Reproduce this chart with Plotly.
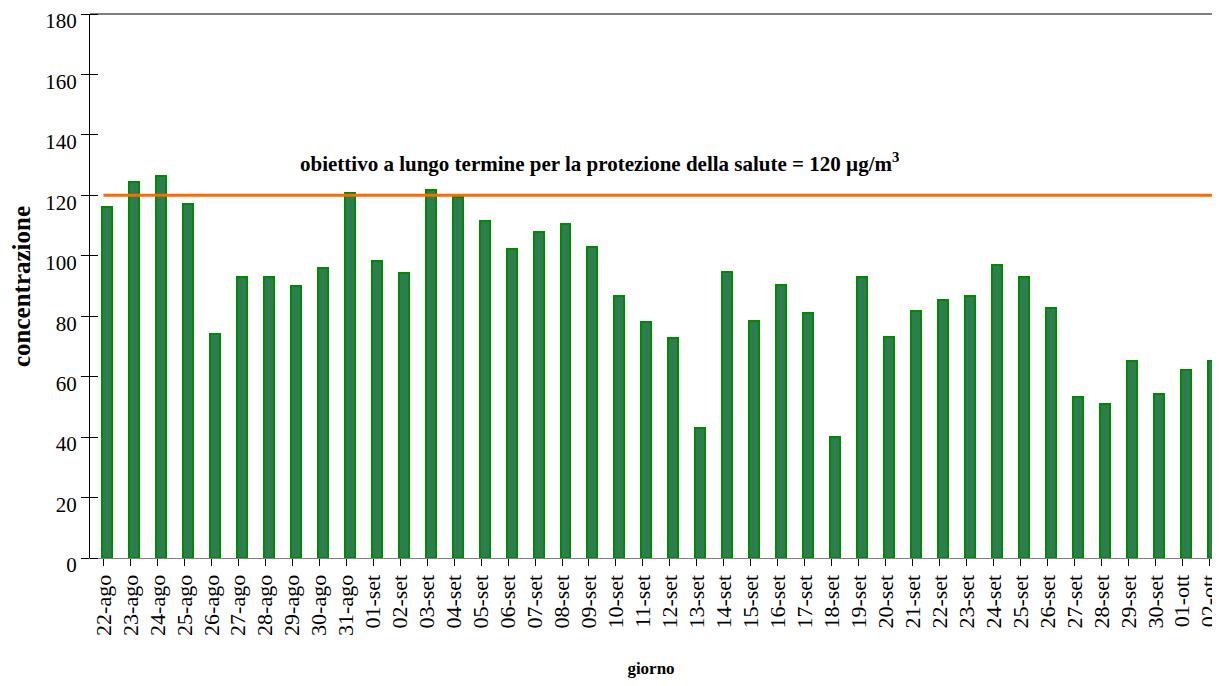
import plotly.graph_objects as go

giorni = ["22-ago", "23-ago", "24-ago", "25-ago", "26-ago", "27-ago", "28-ago", "29-ago", "30-ago", "31-ago",
          "01-set", "02-set", "03-set", "04-set", "05-set", "06-set", "07-set", "08-set", "09-set", "10-set",
          "11-set", "12-set", "13-set", "14-set", "15-set", "16-set", "17-set", "18-set", "19-set", "20-set",
          "21-set", "22-set", "23-set", "24-set", "25-set", "26-set", "27-set", "28-set", "29-set", "30-set",
          "01-ott", "02-ott"]
concentrazione = [116, 124.5, 126.4, 117, 74, 93, 93, 90, 96, 120.7,
                  98.4, 94.3, 121.8, 119.5, 111.5, 102.2, 107.9, 110.5, 102.9, 86.7,
                  78.1, 72.8, 43, 94.6, 78.4, 90.3, 81, 40, 93, 73.1,
                  81.7, 85.4, 86.7, 96.9, 92.9, 82.6, 53.3, 51.1, 65.3, 54.3,
                  62.1, 65.3]
obiettivo = 120
y_ticks = [0, 20, 40, 60, 80, 100, 120, 140, 160, 180]

font_serif = "Liberation Serif, Times New Roman, serif"
idx = list(range(len(giorni)))

fig = go.Figure()
fig.add_trace(go.Bar(
    x=idx, y=concentrazione,
    width=0.37, offset=-0.055,
    marker=dict(color="#2E7D50", line=dict(color="#008A00", width=2)),
    showlegend=False, hoverinfo="y",
))
fig.add_trace(go.Scatter(
    x=[0, len(giorni) - 0.5], y=[obiettivo, obiettivo],
    mode="lines", line=dict(color="#FF6A00", width=3),
    showlegend=False, hoverinfo="skip",
))

fig.add_annotation(
    x=0.454, xref="paper", y=131, yref="y", yanchor="middle", xanchor="center",
    text="<b>obiettivo a lungo termine per la protezione della salute = 120 µg/m<sup>3</sup></b>",
    showarrow=False, font=dict(family=font_serif, size=21, color="black"),
)
# y axis title
fig.add_annotation(
    x=-0.0615, xref="paper", y=0.5, yref="paper", xanchor="center", yanchor="middle",
    text="<b>concentrazione</b>", textangle=-90, showarrow=False,
    font=dict(family=font_serif, size=25, color="black"),
)

# top border
fig.add_shape(type="line", xref="paper", yref="paper", x0=0, x1=1, y0=1, y1=1,
              line=dict(color="black", width=1))

# the page body has an 8px margin, so the figure is sized to fit inside it
fig.update_layout(
    width=1204, height=670,
    margin=dict(l=82, r=0, t=6, b=120),
    paper_bgcolor="white", plot_bgcolor="white",
    font=dict(family=font_serif, size=22, color="black"),
    bargap=0,
    xaxis=dict(
        range=[-0.5, 41.1], automargin=False,
        tickmode="array", tickvals=idx, ticktext=giorni,
        tickangle=-90, tickson="boundaries", ticklabeloverflow="allow",
        ticks="outside", ticklen=7, tickcolor="black",
        showline=True, linecolor="#808080", linewidth=1,
        showgrid=False, zeroline=False,
        tickfont=dict(family=font_serif, size=22),
        title=dict(text="<b>giorno</b>", font=dict(family=font_serif, size=17), standoff=33),
    ),
    yaxis=dict(
        range=[0, 180], automargin=False, tickmode="array", tickvals=y_ticks,
        ticks="outside", ticklen=8, tickcolor="black",
        ticklabeloverflow="allow", ticklabelshift=7,
        minor=dict(ticks="inside", ticklen=8, tickcolor="black", tickvals=y_ticks, showgrid=False),
        showline=True, linecolor="black", linewidth=1,
        showgrid=False, zeroline=False,
        tickfont=dict(family=font_serif, size=21),
    ),
)

fig.write_html("out.html")
